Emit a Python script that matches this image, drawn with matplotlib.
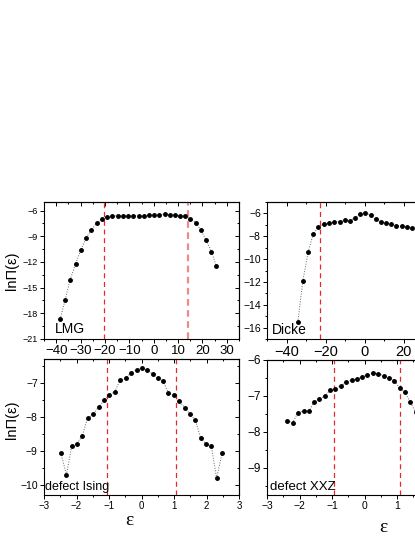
import matplotlib
matplotlib.use("Agg")
import matplotlib.pyplot as plt
from matplotlib.ticker import MultipleLocator, FixedLocator

plt.rcParams['font.family'] = ['Liberation Sans', 'DejaVu Sans']

# LMG
lmg_eps = [-38.4, -36.3, -34.3, -32.0, -29.9, -27.8, -25.6, -23.4, -21.3, -19.2, -17.0,
           -14.8, -12.7, -10.5, -8.3, -6.1, -4.0, -1.9, 0.2, 2.3, 4.5, 6.5, 8.7, 10.9,
           13.0, 15.1, 17.3, 19.3, 21.5, 23.7, 25.7]
lmg_val = [-18.7, -16.4, -14.1, -12.2, -10.6, -9.24, -8.26, -7.48, -7.0, -6.74, -6.62,
           -6.62, -6.58, -6.62, -6.62, -6.6, -6.6, -6.55, -6.52, -6.47, -6.43, -6.47, -6.55,
           -6.6, -6.62, -6.97, -7.44, -8.26, -9.45, -10.8, -12.5]
# Dicke
dicke_eps = [-34.2, -31.6, -28.9, -26.3, -23.6, -20.9, -18.1, -15.4, -12.8, -10.1, -7.5,
             -5.0, -2.2, 0.3, 3.1, 5.8, 8.4, 11.1, 13.7, 16.4, 19.1, 21.9, 24.5, 27.2]
dicke_val = [-15.53, -11.9, -9.39, -7.8, -7.18, -6.91, -6.86, -6.74, -6.71, -6.59, -6.65,
             -6.38, -6.09, -5.94, -6.15, -6.53, -6.74, -6.83, -6.94, -7.06, -7.12, -7.18,
             -7.24, -7.28]
# defect Ising
ising_eps = [-2.48, -2.31, -2.15, -1.98, -1.82, -1.66, -1.48, -1.32, -1.14, -0.99, -0.83,
             -0.66, -0.49, -0.32, -0.15, 0.01, 0.18, 0.34, 0.5, 0.67, 0.82, 1.0, 1.16, 1.33,
             1.49, 1.66, 1.82, 1.98, 2.15, 2.31, 2.48]
ising_val = [-9.06, -9.71, -8.87, -8.79, -8.55, -8.04, -7.92, -7.71, -7.51, -7.36, -7.27,
             -6.93, -6.86, -6.71, -6.63, -6.57, -6.62, -6.74, -6.87, -6.95, -7.29, -7.37,
             -7.54, -7.73, -7.92, -8.1, -8.63, -8.79, -8.87, -9.8, -9.07]
# defect XXZ
xxz_eps = [-2.38, -2.21, -2.05, -1.87, -1.71, -1.55, -1.39, -1.22, -1.06, -0.9, -0.72,
           -0.56, -0.4, -0.24, -0.07, 0.09, 0.25, 0.43, 0.59, 0.75, 0.92, 1.08, 1.24, 1.41, 1.57]
xxz_val = [-7.69, -7.74, -7.46, -7.42, -7.42, -7.17, -7.09, -7.0, -6.83, -6.8, -6.71,
           -6.62, -6.56, -6.53, -6.47, -6.42, -6.36, -6.38, -6.44, -6.51, -6.57, -6.79,
           -6.89, -7.17, -7.45]

lmg_xticks = [-40, -30, -20, -10, 0, 10, 20, 30]
dicke_xticks = [-40, -20, 0, 20]
ising_xticks = [-3, -2, -1, 0, 1, 2, 3]
xxz_xticks = [-3, -2, -1, 0, 1]

W, H = 415, 537
fig = plt.figure(figsize=(W / 100, H / 100), dpi=100)

def rect(x0, y0, x1, y1):
    return [x0 / W, 1 - y1 / H, (x1 - x0) / W, (y1 - y0) / H]

def style(ax, fs_x, fs_y, xticks, xmin, ymaj, ymin):
    ax.xaxis.set_major_locator(FixedLocator(xticks))
    ax.xaxis.set_minor_locator(MultipleLocator(xmin))
    ax.yaxis.set_major_locator(MultipleLocator(ymaj))
    ax.yaxis.set_minor_locator(MultipleLocator(ymin))
    for s in ax.spines.values():
        s.set_linewidth(0.8)
    ax.tick_params(which='both', direction='out', width=0.7, top=False, right=False)
    ax.tick_params(which='major', length=3)
    ax.tick_params(which='minor', length=1.7)
    ax.tick_params(axis='x', labelsize=fs_x, pad=1.5)
    ax.tick_params(axis='y', labelsize=fs_y, pad=1.5)
    sx = ax.secondary_xaxis('top')
    sx.xaxis.set_major_locator(FixedLocator(xticks))
    sx.xaxis.set_minor_locator(MultipleLocator(xmin))
    sx.tick_params(which='both', direction='in', labeltop=False, width=0.7)
    sx.tick_params(which='major', length=3)
    sx.tick_params(which='minor', length=1.7)
    sy = ax.secondary_yaxis('right')
    sy.yaxis.set_major_locator(MultipleLocator(ymaj))
    sy.yaxis.set_minor_locator(MultipleLocator(ymin))
    sy.tick_params(which='both', direction='in', labelright=False, width=0.7)
    sy.tick_params(which='major', length=3)
    sy.tick_params(which='minor', length=1.7)
    for s in list(sx.spines.values()) + list(sy.spines.values()):
        s.set_linewidth(0.8)

def plot(ax, x, y):
    ax.plot(x, y, linestyle=(0, (1, 1.6)), color='#666666', lw=0.7, zorder=2)
    ax.plot(x, y, 'o', color='black', ms=2.5, zorder=3)

red = '#e8282a'

ax1 = fig.add_axes(rect(44, 202, 239, 339))
plot(ax1, lmg_eps, lmg_val)
ax1.axvline(-20.5, color=red, ls=(0, (4, 3)), lw=0.9)
ax1.axvline(14, color='#f08a8a', ls=(0, (3, 2)), lw=1.6)
ax1.set_xlim(-45, 35)
ax1.set_ylim(-21, -5)
style(ax1, 9.5, 6.5, lmg_xticks, 5, 3, 1.5)
ax1.text(-40.5, -20.6, 'LMG', fontsize=10, ha='left', va='bottom')
ax1.set_ylabel('lnΠ(ε)', fontsize=10.5)
ax1.yaxis.set_label_coords(-0.13, 0.5)

ax2 = fig.add_axes(rect(267, 202, 462, 339))
plot(ax2, dicke_eps, dicke_val)
ax2.axvline(-23, color=red, ls=(0, (4, 3)), lw=0.9)
ax2.set_xlim(-50, 50)
ax2.set_ylim(-17, -5)
style(ax2, 10.5, 7.5, dicke_xticks, 10, 2, 1)
ax2.text(-47.3, -16.85, 'Dicke', fontsize=10, ha='left', va='bottom')

ax3 = fig.add_axes(rect(44, 359, 239, 495))
plot(ax3, ising_eps, ising_val)
ax3.axvline(-1.05, color=red, ls=(0, (4, 3)), lw=0.9)
ax3.axvline(1.05, color=red, ls=(0, (4, 3)), lw=0.9)
ax3.set_xlim(-3, 3)
ax3.set_ylim(-10.3, -6.3)
style(ax3, 7, 7.5, ising_xticks, 0.5, 1, 0.5)
ax3.text(-2.97, -10.25, 'defect Ising', fontsize=9, ha='left', va='bottom')
ax3.set_ylabel('lnΠ(ε)', fontsize=10.5)
ax3.yaxis.set_label_coords(-0.13, 0.55)
ax3.set_xlabel('ε', fontsize=14, family='Liberation Serif')
ax3.xaxis.set_label_coords(0.44, -0.125)

ax4 = fig.add_axes(rect(267, 360, 462, 495))
plot(ax4, xxz_eps, xxz_val)
ax4.axvline(-0.95, color=red, ls=(0, (4, 3)), lw=0.9)
ax4.axvline(1.1, color=red, ls=(0, (4, 3)), lw=0.9)
ax4.set_xlim(-3, 3)
ax4.set_ylim(-9.75, -6)
style(ax4, 7.5, 8.5, xxz_xticks, 0.5, 1, 0.5)
ax4.text(-2.9, -9.7, 'defect XXZ', fontsize=9.5, ha='left', va='bottom')
ax4.set_xlabel('ε', fontsize=14, family='Liberation Serif')
ax4.xaxis.set_label_coords(0.595, -0.175)

fig.savefig('out.png', dpi=100)
